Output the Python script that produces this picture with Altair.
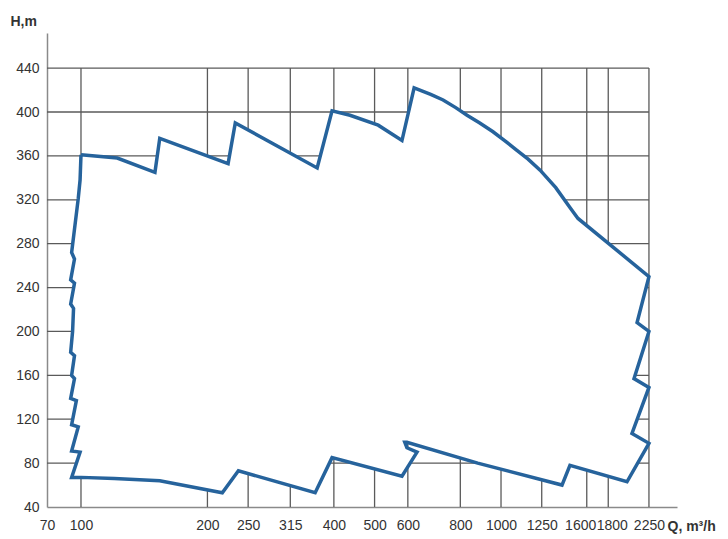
import altair as alt
import pandas as pd

# ---- data (Q in m3/h, H in m) ----
# outline of the working field, clockwise from the top-left corner
poly_q = [100, 122, 150, 154, 224, 233, 365, 396, 437, 510, 581, 621, 680, 728, 780, 830,
          890, 957, 1020, 1091, 1160, 1239, 1350, 1459, 1525, 2250, 2108, 2250, 2073, 2250,
          2050, 2250, 1995, 1459, 1397,
          880, 597, 590, 597, 631, 581, 396, 361, 237, 217, 154, 120, 100, 95,
          99.5, 95, 98.5, 95, 97.5, 94.5, 96.5, 95, 96.5, 94.5, 95.5, 96, 94.5,
          96.5, 94.5, 96.5, 95, 98.5, 99.5, 100]
poly_h = [361, 358, 345, 376, 353, 390, 349, 401, 397, 388, 374, 422, 416, 411, 404, 397,
          390, 382, 374, 365, 357, 347, 331, 313, 303, 250, 208, 200, 157, 149,
          107, 98, 63, 78, 60,
          80, 99, 99, 94, 90, 68, 85, 53, 73, 53, 64, 66, 67, 67,
          90, 91, 113, 115, 137, 139, 157, 160, 178, 181, 200, 221, 225,
          244, 247, 266, 272, 321, 338, 361]

x_tick_values = [100, 200, 250, 315, 400, 500, 600, 800, 1000, 1250, 1600, 1800, 2250]
x_origin_label = "70"
y_tick_values = [40, 80, 120, 160, 200, 240, 280, 320, 360, 400, 440]

X_MIN, X_MAX = 83, 2624
Y_MIN, Y_MAX = 40, 472
GRID_X_END = 2250
GRID_Y_END = 440

FONT = "Liberation Sans, Arial, sans-serif"
LINE = "#26639c"
GRID = "#5a5a5a"

poly = pd.DataFrame({"Q": poly_q, "H": poly_h, "i": list(range(len(poly_q)))})
hgrid = pd.DataFrame({"H": y_tick_values[1:], "x1": X_MIN, "x2": GRID_X_END})
vgrid = pd.DataFrame({"Q": x_tick_values, "y1": Y_MIN, "y2": GRID_Y_END})

xs = alt.Scale(type="log", domain=[X_MIN, X_MAX], nice=False)
ys = alt.Scale(domain=[Y_MIN, Y_MAX], nice=False, zero=False)

x_axis = alt.Axis(
    values=[X_MIN] + x_tick_values,
    labelExpr=f"datum.value < 90 ? '{x_origin_label}' : format(datum.value, 'd')",
    labelAlign={"condition": [
        {"test": "datum.value == 1600", "value": "right"},
        {"test": "datum.value == 1800", "value": "left"}], "value": "center"},
    labelOffset={"condition": [
        {"test": "datum.value == 1600", "value": 9},
        {"test": "datum.value == 1800", "value": -12}], "value": 0},
    grid=False, ticks=False, labelOverlap=False, labelFlush=False,
    labelFont=FONT, labelFontSize=14, labelColor="#333333", labelPadding=11,
    domainColor="#8a8a8a", domainWidth=1.5,
    title="Q, m³/h", titleFont=FONT, titleFontSize=14,
    titleFontWeight="bold", titleColor="#333333", titleAlign="left",
    titleBaseline="alphabetic", titleX=620, titleY=23, titleAngle=0,
)
y_axis = alt.Axis(
    values=y_tick_values,
    grid=False, ticks=False, labelFont=FONT, labelFontSize=14, labelColor="#333333",
    labelPadding=8, domainColor="#8a8a8a", domainWidth=1.5,
    title="H,m", titleFont=FONT, titleFontSize=14,
    titleFontWeight="bold", titleColor="#333333", titleAngle=0, titleAlign="left",
    titleBaseline="alphabetic", titleX=-37, titleY=-8,
)

h_rules = alt.Chart(hgrid).mark_rule(color=GRID, strokeWidth=1.3).encode(
    x=alt.X("x1:Q", scale=xs, axis=x_axis), x2="x2:Q",
    y=alt.Y("H:Q", scale=ys, axis=y_axis),
)
v_rules = alt.Chart(vgrid).mark_rule(color=GRID, strokeWidth=1.3).encode(
    x=alt.X("Q:Q", scale=xs, axis=x_axis),
    y=alt.Y("y1:Q", scale=ys, axis=y_axis), y2="y2:Q",
)
outline = alt.Chart(poly).mark_line(
    fill="white", stroke=LINE, strokeWidth=3.5, strokeJoin="miter", strokeMiterLimit=3,
).encode(
    x=alt.X("Q:Q", scale=xs, axis=x_axis),
    y=alt.Y("H:Q", scale=ys, axis=y_axis),
    order="i:Q",
)

chart = alt.layer(h_rules, v_rules, outline).properties(
    width=630, height=474,
    autosize=alt.AutoSizeParams(type="none"),
    padding={"left": 39, "top": 25, "right": 42, "bottom": 30},
).configure_view(stroke=None)

chart.save("out.html", embed_options={"renderer": "svg", "actions": False})
